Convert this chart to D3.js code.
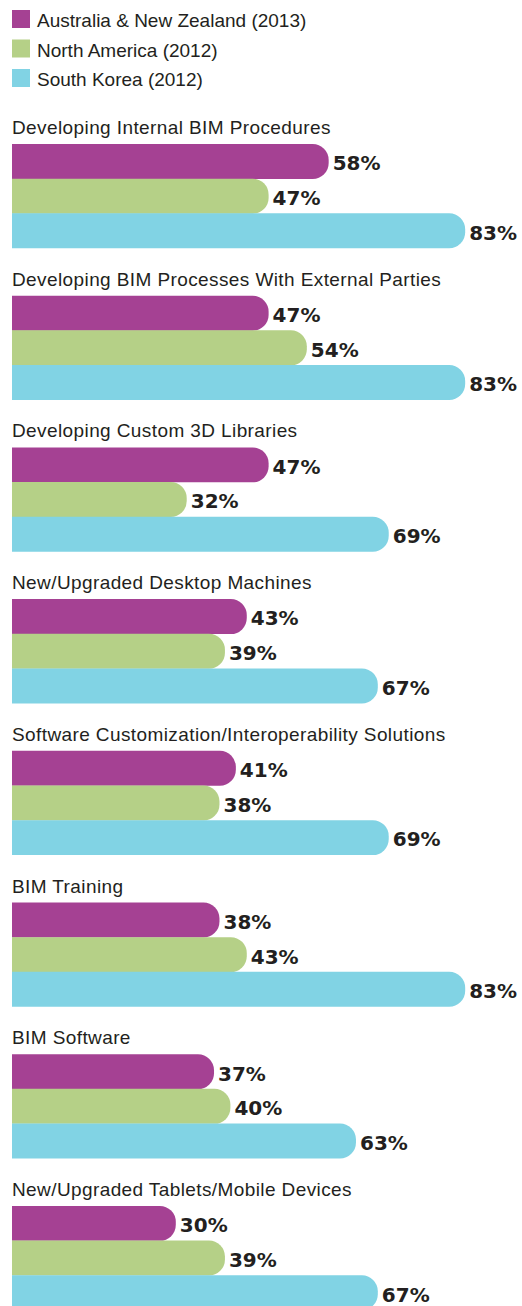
<!DOCTYPE html>
<html lang="en">
<head>
    <meta charset="UTF-8">
    <title>BIM investment priorities</title>
    <script src="https://d3js.org/d3.v7.min.js"></script>
    <style>
        body { margin: 0; background: #fff; }
        svg { display: block; }
        .legend text { font-family: "Liberation Sans", Arial, sans-serif; font-size: 19px; fill: #231f20; }
        .title { font-family: "Liberation Sans", Arial, sans-serif; font-size: 19px; letter-spacing: 0.4px; fill: #231f20; }
        .label { font-family: "DejaVu Sans", sans-serif; font-weight: bold; font-size: 20px; fill: #231f20; }
    </style>
</head>
<body>
<svg id="chart"></svg>
<script>
    // data
    var categories = [
        "Developing Internal BIM Procedures",
        "Developing BIM Processes With External Parties",
        "Developing Custom 3D Libraries",
        "New/Upgraded Desktop Machines",
        "Software Customization/Interoperability Solutions",
        "BIM Training",
        "BIM Software",
        "New/Upgraded Tablets/Mobile Devices"
    ];
    var seriesNames = ["Australia & New Zealand (2013)", "North America (2012)", "South Korea (2012)"];
    var anz = [58, 47, 47, 43, 41, 38, 37, 30];
    var northAmerica = [47, 54, 32, 39, 38, 43, 40, 39];
    var southKorea = [83, 83, 69, 67, 69, 83, 63, 67];
    var colors = ["#a54193", "#b5d087", "#81d3e4"];

    var width = 522, height = 1306;
    var svg = d3.select("#chart").attr("width", width).attr("height", height);

    var x = d3.scaleLinear().domain([0, 100]).range([12, 12 + 546]);
    var groupY = d3.scaleLinear().domain([0, 1]).range([144, 144 + 151.7]);
    var barY = d3.scaleBand().domain(d3.range(3)).range([0, 104]).padding(0);

    // legend
    var legend = svg.append("g").attr("class", "legend");
    var leg = legend.selectAll("g").data(seriesNames).enter().append("g")
        .attr("transform", function (d, i) { return "translate(12," + (10 + i * 29.5) + ")"; });
    leg.append("rect").attr("width", 18).attr("height", 18)
        .attr("fill", function (d, i) { return colors[i]; });
    leg.append("text").attr("x", 25).attr("y", 17.3).text(function (d) { return d; });

    var rows = categories.map(function (c, i) {
        return { name: c, values: [anz[i], northAmerica[i], southKorea[i]] };
    });

    // bar with square left end and round right end
    function barPath(x0, x1, y0, h) {
        var r = Math.min(16, h / 2, x1 - x0);
        var p = d3.path();
        p.moveTo(x0, y0);
        p.lineTo(x1 - r, y0);
        p.arcTo(x1, y0, x1, y0 + r, r);
        p.lineTo(x1, y0 + h - r);
        p.arcTo(x1, y0 + h, x1 - r, y0 + h, r);
        p.lineTo(x0, y0 + h);
        p.closePath();
        return p.toString();
    }

    var groups = svg.selectAll(".group").data(rows).enter().append("g")
        .attr("class", "group")
        .attr("transform", function (d, i) { return "translate(0," + groupY(i) + ")"; });

    groups.append("text").attr("class", "title")
        .attr("x", 12).attr("y", -10)
        .text(function (d) { return d.name; });

    var bh = barY.bandwidth();
    groups.selectAll("path").data(function (d) { return d.values; }).enter().append("path")
        .attr("d", function (v, j) { return barPath(x(0), x(v), barY(j), bh + 0.3); })
        .attr("fill", function (v, j) { return colors[j]; });

    groups.selectAll(".label").data(function (d) { return d.values; }).enter().append("text")
        .attr("class", "label")
        .attr("x", function (v) { return x(v) + 4; })
        .attr("y", function (v, j) { return barY(j) + bh / 2 + 9; })
        .text(function (v) { return v + "%"; });
</script>
</body>
</html>
